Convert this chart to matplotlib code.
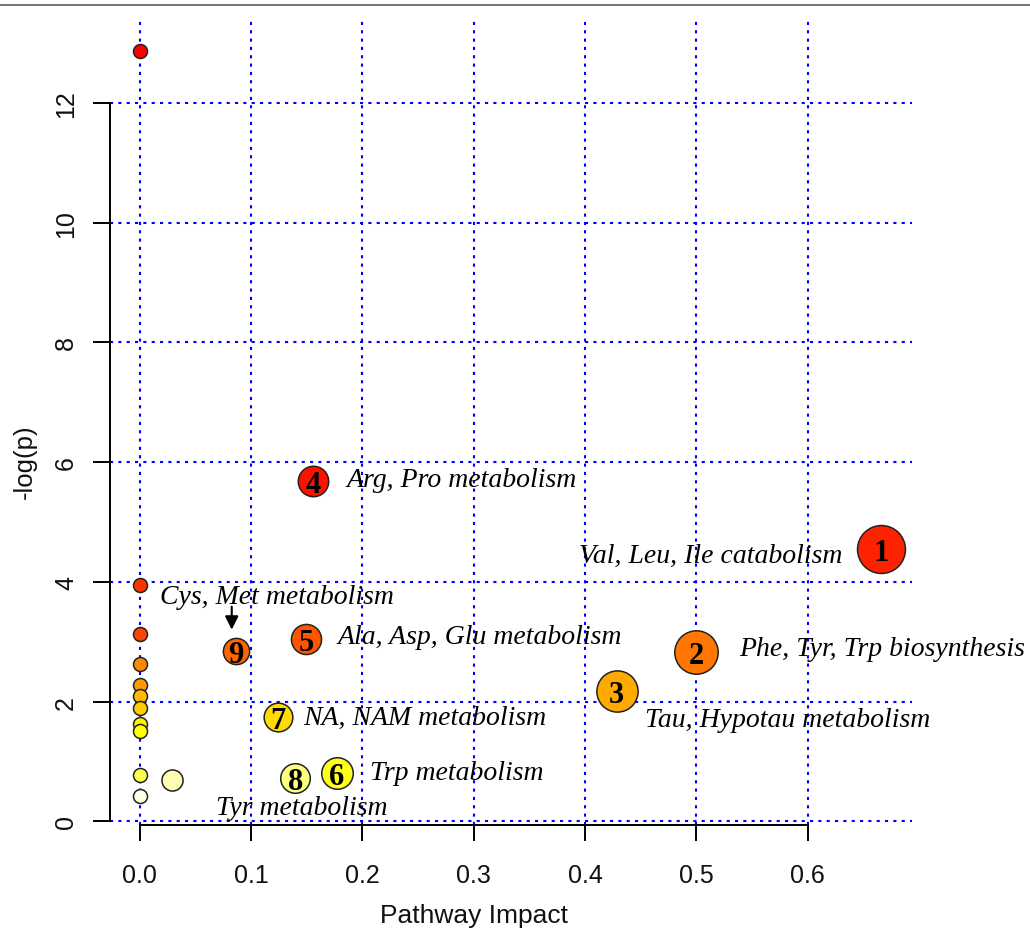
import colorsys
import numpy as np
import matplotlib
matplotlib.use("Agg")
import matplotlib.pyplot as plt
from matplotlib.lines import Line2D
from matplotlib.transforms import offset_copy

# pathways without a number (mostly impact 0)
bg_impact = [0.0, 0.0, 0.0, 0.0, 0.0, 0.0, 0.0, 0.0, 0.0, 0.0, 0.0, 0.029]
bg_logp = [12.87, 3.94, 3.13, 2.63, 2.27, 2.10, 1.90, 1.63, 1.51, 0.77, 0.43, 0.69]

# numbered pathways
num_ids = ["1", "2", "3", "4", "5", "6", "7", "8", "9"]
num_names = ["Val, Leu, Ile catabolism", "Phe, Tyr, Trp biosynthesis",
             "Tau, Hypotau metabolism", "Arg, Pro metabolism",
             "Ala, Asp, Glu metabolism", "Trp metabolism",
             "NA, NAM metabolism", "Tyr metabolism", "Cys, Met metabolism"]
num_impact = [0.666, 0.500, 0.4285, 0.156, 0.1495, 0.177, 0.1246, 0.140, 0.0864]
num_logp = [4.55, 2.83, 2.18, 5.69, 3.05, 0.80, 1.74, 0.72, 2.85]

xticks = [0.0, 0.1, 0.2, 0.3, 0.4, 0.5, 0.6]
yticks = [0, 2, 4, 6, 8, 10, 12]

# label placement (pixels from bubble centre, baseline anchored)
label_offsets = {
    "1": (-39, -13, "right"), "2": (43, -3, "left"), "3": (28, -35, "left"),
    "4": (33, -5, "left"), "5": (31, -4, "left"), "6": (33, -6, "left"),
    "7": (25, -7, "left"), "8": (-79, -36, "left"), "9": (-76, 48, "left"),
}


def heat_colors(n):
    # same as R's heat.colors()
    j = n // 4
    cols = []
    for h in np.linspace(0, 1 / 6, n - j):
        cols.append(colorsys.hsv_to_rgb(h, 1, 1))
    if j > 0:
        for s in np.linspace(1 - 1 / (2 * j), 1 / (2 * j), j):
            cols.append(colorsys.hsv_to_rgb(1 / 6, s, 1))
    return cols


all_impact = np.array(bg_impact + num_impact)
all_logp = np.array(bg_logp + num_logp)
all_ids = [""] * len(bg_impact) + num_ids

# colour by rank of -log(p), size by impact
order = np.argsort(-all_logp, kind="stable")
pal = heat_colors(len(all_logp))
colors = [None] * len(all_logp)
for rank, i in enumerate(order):
    colors[i] = pal[rank]
radius_px = 7 + 20.8 * np.sqrt(all_impact)
sizes = (2 * radius_px * 0.72) ** 2

W, H = 1030, 929
fig = plt.figure(figsize=(W / 100, H / 100), dpi=100)
ax = fig.add_axes([110 / W, 1 - 826 / H, 802 / W, 805 / H])
ax.set_xlim(-0.0265, 0.6936)
ax.set_ylim(-0.062, 13.386)

ax.set_xticks(xticks)
ax.set_yticks(yticks)
ax.set_xticklabels([f"{v:.1f}" for v in xticks])
ax.set_yticklabels([str(v) for v in yticks])
ax.grid(True, color="#0000ff", linestyle=(0, (1.5, 2.5)), linewidth=1.5)
ax.set_axisbelow(True)

for side in ["top", "right"]:
    ax.spines[side].set_visible(False)
ax.spines["left"].set_bounds(0, 12)
ax.spines["bottom"].set_bounds(0, 0.6)
ax.spines["left"].set_linewidth(1.4)
ax.spines["bottom"].set_linewidth(1.4)
ax.tick_params(axis="x", length=11.5, width=1.4, pad=16, labelsize=18)
ax.tick_params(axis="y", length=12, width=1.4, pad=11, labelsize=18, labelrotation=90)
for lab in ax.get_xticklabels() + ax.get_yticklabels():
    lab.set_fontfamily("Liberation Sans")
    lab.set_color("#111111")
for lab in ax.get_yticklabels():
    lab.set_va("center")

# draw from high to low -log(p), so lower points lie on top
for i in order:
    ax.scatter(all_impact[i], all_logp[i], s=sizes[i], color=colors[i],
               edgecolors="#222222", linewidths=1.1, zorder=3)
    if all_ids[i]:
        ax.text(all_impact[i], all_logp[i], all_ids[i], ha="center", va="center_baseline",
                fontsize=22, fontweight="bold", family="Liberation Serif", zorder=5)

for k, name in enumerate(num_names):
    dx, dy, ha = label_offsets[num_ids[k]]
    ax.annotate(name, xy=(num_impact[k], num_logp[k]), xytext=(dx, dy),
                textcoords="offset pixels", ha=ha, va="baseline", fontsize=20,
                style="italic", family="Liberation Serif", zorder=4)

# arrow pointing at pathway 9
k9 = num_ids.index("9")
tip = offset_copy(ax.transData, fig=fig, x=-4, y=21, units="dots")
ax.annotate("", xy=(num_impact[k9], num_logp[k9]), xycoords=tip,
            xytext=(0, 23), textcoords="offset pixels",
            arrowprops=dict(arrowstyle="-|>,head_length=0.8,head_width=0.4",
                            color="black", lw=1.5, shrinkA=0, shrinkB=0), zorder=4)

fig.text(474 / W, 1 - 916 / H, "Pathway Impact", ha="center", va="center",
         fontsize=19, family="Liberation Sans", color="#111111")
fig.text(25 / W, 1 - 462 / H, "-log(p)", ha="center", va="center", rotation=90,
         fontsize=18.5, family="Liberation Sans", color="#111111")

# thin rule along the top edge
fig.add_artist(Line2D([0, 1], [1 - 5.5 / H, 1 - 5.5 / H], color="#777777", lw=1.5))

fig.savefig("out.png", dpi=100)
